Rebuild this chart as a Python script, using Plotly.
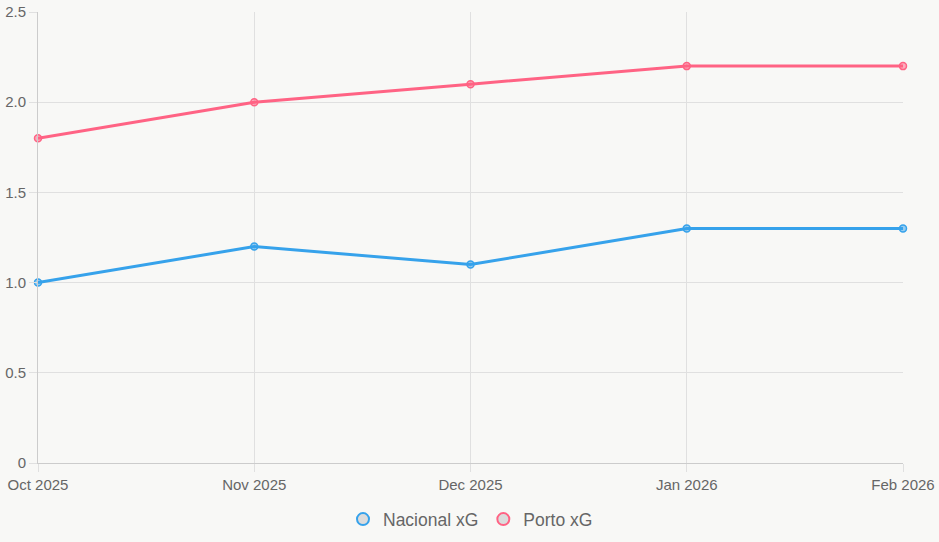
import plotly.graph_objects as go

months = ["Oct 2025", "Nov 2025", "Dec 2025", "Jan 2026", "Feb 2026"]
nacional_xg = [1.0, 1.2, 1.1, 1.3, 1.3]
porto_xg = [1.8, 2.0, 2.1, 2.2, 2.2]
y_ticks = [0, 0.5, 1.0, 1.5, 2.0, 2.5]
y_tick_text = ["0", "0.5", "1.0", "1.5", "2.0", "2.5"]

series = [
    ("Nacional xG", nacional_xg, "#36A2EB", "rgba(54,162,235,0.5)"),
    ("Porto xG", porto_xg, "#FF6384", "rgba(255,99,132,0.5)"),
]

fig = go.Figure()
for name, vals, col, fill in series:
    fig.add_trace(go.Scatter(
        x=months, y=vals, mode="lines+markers", name=name, showlegend=False,
        line=dict(color=col, width=3),
        marker=dict(size=7, color=fill, line=dict(color=col, width=1.5)),
        cliponaxis=False,
    ))
for name, vals, col, fill in series:
    fig.add_trace(go.Scatter(
        x=[None], y=[None], mode="markers", name=name,
        marker=dict(size=15, color="#dcdcdc", line=dict(color=col, width=1.5)),
    ))

grid = "#e0e0e0"
fig.update_layout(
    width=939, height=542,
    margin=dict(l=38, r=36, t=12, b=79, autoexpand=False),
    paper_bgcolor="#f8f8f6", plot_bgcolor="#f8f8f6",
    font=dict(family="Liberation Sans, Arial, sans-serif", size=15, color="#666666"),
    legend=dict(orientation="h", x=0.5, xanchor="center", yref="container",
                y=0.042, yanchor="middle",
                font=dict(size=17.5, color="#666666"), itemsizing="constant"),
    xaxis=dict(type="category", range=[0, 4], showgrid=True, gridcolor=grid,
               ticks="outside", ticklen=8, tickcolor=grid, automargin=False,
               showline=True, linecolor="#cccccc", zeroline=False),
    yaxis=dict(range=[0, 2.5], tickvals=y_ticks, ticktext=y_tick_text, automargin=False,
               showgrid=True, gridcolor=grid, ticks="outside", ticklen=8, tickcolor=grid,
               showline=True, linecolor="#cccccc", zeroline=False),
)
fig.write_html("out.html")
